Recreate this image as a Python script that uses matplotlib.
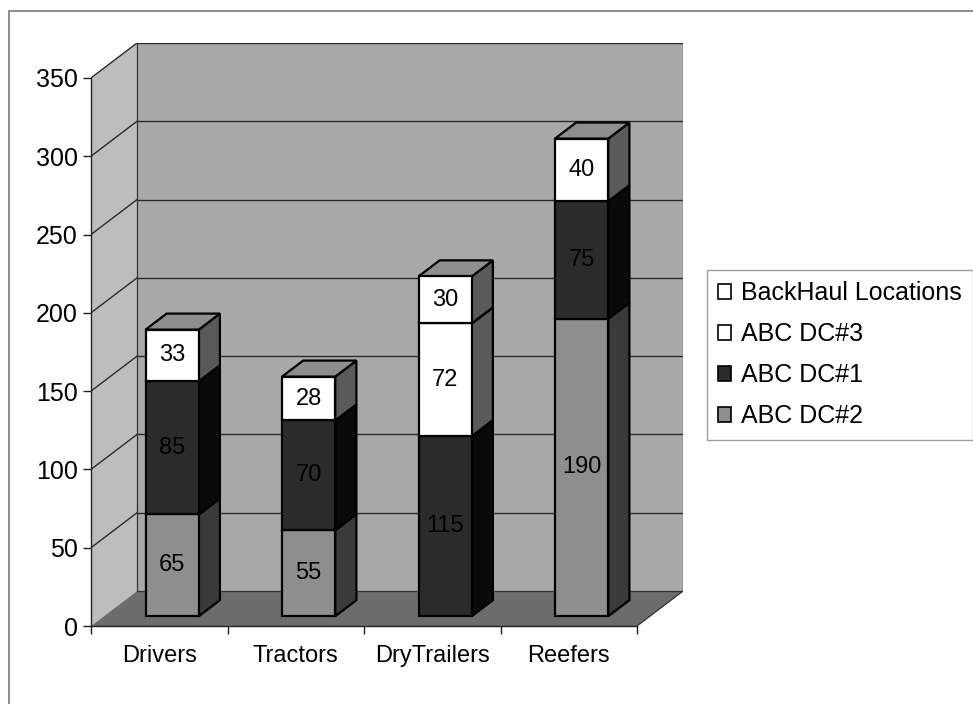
import matplotlib.pyplot as plt
from matplotlib.patches import Polygon, Rectangle, Patch

plt.rcParams["font.family"] = ["Liberation Sans", "DejaVu Sans"]

# fleet requirement per resource type, stacked by site
categories = ["Drivers", "Tractors", "DryTrailers", "Reefers"]
dc2 = [65, 55, 0, 190]
dc1 = [85, 70, 115, 75]
dc3 = [0, 0, 72, 0]
backhaul = [33, 28, 30, 40]
series_names = ["ABC DC#2", "ABC DC#1", "ABC DC#3", "BackHaul Locations"]
y_ticks = [0, 50, 100, 150, 200, 250, 300, 350]

series_values = [dc2, dc1, dc3, backhaul]
# (front, side, top) face shades for each series
face_colors = [
    ("#8e8e8e", "#3a3a3a", "#7a7a7a"),
    ("#2b2b2b", "#0a0a0a", "#474747"),
    ("#ffffff", "#5a5a5a", "#8e8e8e"),
    ("#ffffff", "#5a5a5a", "#8e8e8e"),
]

# oblique depth of the plot box, in data units
DX = 0.337
DY = 22.3
Y_MAX = y_ticks[-1]
N = len(categories)

# bar footprint inside each category slot (x half width, depth range)
HALF_W = 0.195
D_FRONT, D_BACK = 0.28, 0.74


def proj(x, v, d):
    return (x + d * DX, v + d * DY)


def poly(ax, pts, fc, ec="black", lw=1.6, z=3):
    ax.add_patch(Polygon(pts, closed=True, facecolor=fc, edgecolor=ec,
                         linewidth=lw, joinstyle="miter", zorder=z))


fig = plt.figure(figsize=(9.73, 7.04), dpi=100)
ax = fig.add_axes([91 / 973, 1 - 626 / 704, (4 + DX) * 136.5 / 973, (626 - 43) / 704])
ax.set_xlim(0, N + DX)
ax.set_ylim(0, Y_MAX + DY)
ax.patch.set_visible(False)

# walls and floor
poly(ax, [proj(0, 0, 0), proj(0, Y_MAX, 0), proj(0, Y_MAX, 1), proj(0, 0, 1)],
     "#bdbdbd", ec="none", z=0)
poly(ax, [proj(0, 0, 1), proj(N, 0, 1), proj(N, Y_MAX, 1), proj(0, Y_MAX, 1)],
     "#a9a9a9", ec="none", z=0)
poly(ax, [proj(0, 0, 0), proj(N, 0, 0), proj(N, 0, 1), proj(0, 0, 1)],
     "#6c6c6c", ec="none", z=0)

grid_kw = dict(color="#2a2a2a", lw=1.0, zorder=1)
for v in y_ticks[1:]:
    (x0, y0), (x1, y1) = proj(0, v, 0), proj(0, v, 1)
    ax.plot([x0, x1], [y0, y1], **grid_kw)
    (x2, y2) = proj(N, v, 1)
    ax.plot([x1, x2], [y1, y2], **grid_kw)
# box edges
for a, b in [((0, 0, 1), (0, Y_MAX, 1)), ((N, 0, 1), (N, Y_MAX, 1)),
             ((N, 0, 0), (N, 0, 1)), ((0, 0, 1), (N, 0, 1))]:
    p, q = proj(*a), proj(*b)
    ax.plot([p[0], q[0]], [p[1], q[1]], color="#333333", lw=0.9, zorder=1)

# stacked bars
for i in range(N):
    x0, x1 = i + 0.5 - HALF_W, i + 0.5 + HALF_W
    base = 0
    for s, vals in enumerate(series_values):
        val = vals[i]
        if val == 0:
            continue
        v0, v1 = base, base + val
        front, side, top = face_colors[s]
        poly(ax, [proj(x1, v0, D_FRONT), proj(x1, v0, D_BACK),
                  proj(x1, v1, D_BACK), proj(x1, v1, D_FRONT)], side)
        poly(ax, [proj(x0, v1, D_FRONT), proj(x1, v1, D_FRONT),
                  proj(x1, v1, D_BACK), proj(x0, v1, D_BACK)], top)
        poly(ax, [proj(x0, v0, D_FRONT), proj(x1, v0, D_FRONT),
                  proj(x1, v1, D_FRONT), proj(x0, v1, D_FRONT)], front)
        cx, cy = proj(i + 0.5, (v0 + v1) / 2, D_FRONT)
        ax.text(cx, cy, str(val), ha="center", va="center", fontsize=17,
                color="black", zorder=5)
        base = v1

# axes: front left value axis and front category axis
for side in ("top", "right"):
    ax.spines[side].set_visible(False)
ax.spines["left"].set_bounds(0, Y_MAX)
ax.spines["bottom"].set_bounds(0, N)
for side in ("left", "bottom"):
    ax.spines[side].set_color("#222222")
    ax.spines[side].set_linewidth(1.0)
    ax.spines[side].set_zorder(2)

ax.set_yticks(y_ticks)
ax.set_yticklabels([str(t) for t in y_ticks])
ax.tick_params(axis="y", direction="out", length=6, width=1.0, color="#222222",
               pad=3.5, labelsize=18)
ax.set_xticks(range(N + 1))
ax.set_xticklabels([])
ax.tick_params(axis="x", which="major", direction="out", length=6, width=1.0,
               color="#222222")
ax.set_xticks([i + 0.5 for i in range(N)], minor=True)
ax.set_xticklabels(categories, minor=True)
ax.tick_params(axis="x", which="minor", length=0, pad=14, labelsize=17)

# legend lists the top series first
handles = [Patch(facecolor=face_colors[s][0], edgecolor="black", linewidth=1.2,
                 label=series_names[s]) for s in reversed(range(len(series_names)))]
leg = fig.legend(handles=handles, loc="upper left",
                 bbox_to_anchor=(707 / 973, 1 - 270 / 704), borderaxespad=0,
                 fontsize=18, frameon=True, fancybox=False, shadow=False,
                 handlelength=0.5, handleheight=0.5, handletextpad=0.4,
                 labelspacing=0.68, borderpad=0.45)
leg.get_frame().set_edgecolor("#888888")
leg.get_frame().set_linewidth(1.0)

# chart area border
fig.add_artist(Rectangle((9 / 973, -0.05), 1.2, 1 - 11 / 704 + 0.05,
                         transform=fig.transFigure, fill=False,
                         edgecolor="#7a7a7a", linewidth=1.2))

fig.savefig("out.png", dpi=100)
